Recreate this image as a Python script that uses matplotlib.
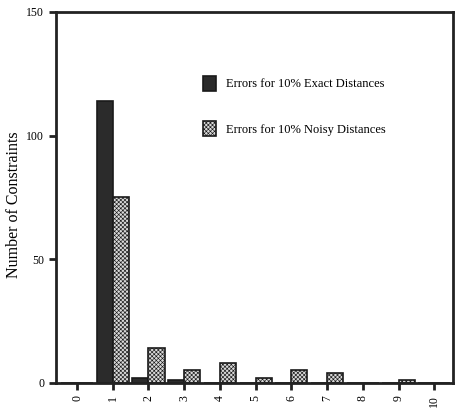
import numpy as np
import matplotlib.pyplot as plt

plt.rcParams['font.family'] = ['Liberation Serif', 'DejaVu Serif']
plt.rcParams['hatch.linewidth'] = 0.45

# values
errors = list(range(11))
exact = [0, 114, 2, 1, 0, 0, 0, 0, 0, 0, 0]
noisy = [0, 75, 14, 5, 8, 2, 5, 4, 0, 1, 0]
yticks = [0, 50, 100, 150]

fig = plt.figure(figsize=(4.55, 4.09), dpi=100)
ax = fig.add_axes([0.123, 0.064, 0.873, 0.907])

x = np.array(errors)
w = 0.45
ax.bar(x - w / 2, exact, width=w, color='#2b2b2b', edgecolor='#1a1a1a',
       linewidth=1.2, label='Errors for 10% Exact Distances')
ax.bar(x + w / 2, noisy, width=w, color='#d9d9d9', edgecolor='#1a1a1a',
       hatch='xxxxxxxx', linewidth=1.2, label='Errors for 10% Noisy Distances')

ax.set_xlim(-0.59, 10.53)
ax.set_ylim(0, 150)
ax.set_xticks(errors)
ax.set_xticklabels([str(e) for e in errors], rotation=90, fontsize=8.5)
ax.set_yticks(yticks)
ax.set_yticklabels([str(t) for t in yticks], fontsize=8.5)
ax.tick_params(axis='both', direction='out', length=5, width=2, color='#222222')
for s in ax.spines.values():
    s.set_linewidth(2)
    s.set_color('#222222')

ax.set_ylabel('Number of Constraints', fontsize=11.5)
ax.yaxis.set_label_coords(-0.085, 0.48)

ax.legend(frameon=False, loc='upper left', bbox_to_anchor=(0.355, 0.845),
          fontsize=9, handlelength=1.0, handleheight=1.5, handletextpad=0.8,
          labelspacing=2.4, borderpad=0)

plt.savefig('out.png', dpi=100)
